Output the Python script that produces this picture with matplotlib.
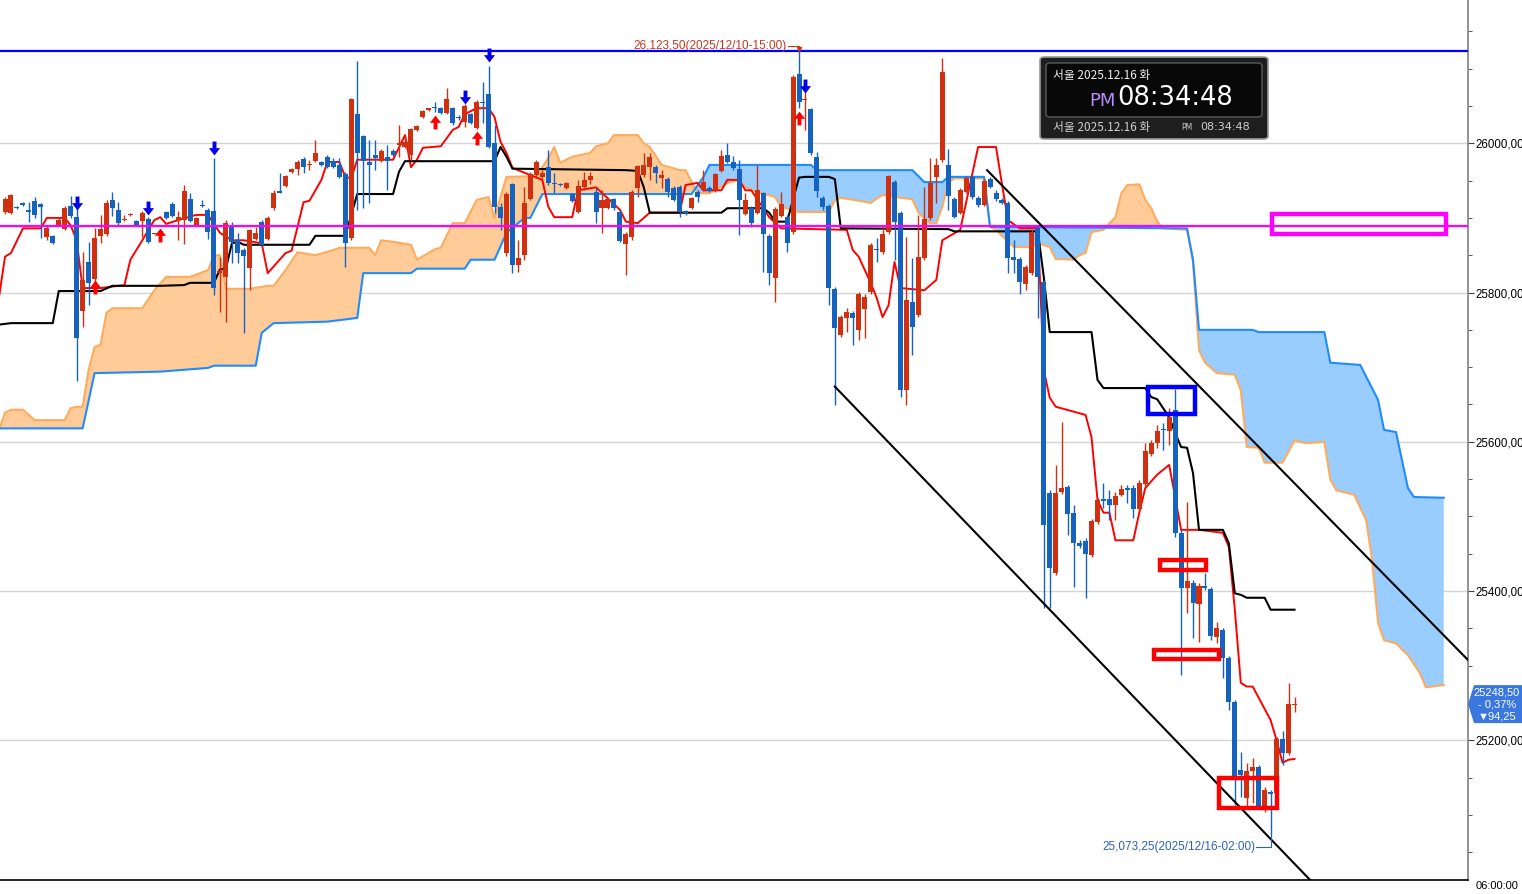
import numpy as np
import matplotlib.pyplot as plt
from matplotlib import font_manager
from matplotlib.path import Path
from matplotlib.patches import Rectangle, FancyBboxPatch, Polygon
from matplotlib.transforms import IdentityTransform

fonts = {f.name for f in font_manager.fontManager.ttflist}
NARROW = 'Liberation Sans Narrow' if 'Liberation Sans Narrow' in fonts else 'Liberation Sans'
KR = ['Noto Sans CJK KR', 'DejaVu Sans']

# ---- candles (one per bar, oldest first) ----
opens = [
    25908, 25907, 25915, 25920, 25911, 25923, 25919, 25874, 25876, 25891,
    25885, 25916, 25901, 25775, 25841, 25818, 25876, 25878, 25924, 25911,
    25897, 25904, 25896, 25896, 25899, 25878, 25880, 25908, 25919, 25897,
    25897, 25925, 25891, 25917, 25911, 25909, 25826, 25821, 25888, 25870,
    25857, 25833, 25872, 25895, 25872, 25913, 25936, 25943, 25962, 25966,
    25979, 25971, 25976, 25975, 25982, 25976, 25971, 25959, 25873, 26039,
    26010, 25975, 25984, 25976, 25982, 25990, 25998, 25995, 25984, 26018,
    26035, 26045, 26049, 26047, 26041, 26047, 26035, 26029, 26039, 26020,
    26055, 26066, 26000, 25915, 25853, 25945, 25837, 25850, 25925, 25958,
    25955, 25968, 25947, 25945, 25940, 25932, 25908, 25941, 25951, 25935,
    25913, 25913, 25925, 25908, 25865, 25874, 25940, 25958, 25968, 25968,
    25953, 25952, 25940, 25941, 25908, 25913, 25935, 25937, 25940, 25937,
    25963, 25984, 25975, 25966, 25905, 25913, 25907, 25933, 25876, 25819,
    25903, 25901, 25881, 26093, 26058, 26046, 25982, 25927, 25916, 25805,
    25743, 25766, 25773, 25750, 25778, 25801, 25858, 25854, 25881, 25948,
    25907, 25669, 25787, 25770, 25846, 25900, 25955, 25978, 25971, 25925,
    25907, 25935, 25955, 25927, 25917, 25952, 25933, 25924, 25920, 25848,
    25845, 25811, 25826, 25887, 25814, 25531, 25424, 25533, 25539, 25505,
    25464, 25467, 25448, 25493, 25522, 25523, 25515, 25529, 25537, 25538,
    25510, 25543, 25584, 25598, 25617, 25614, 25643, 25478, 25404, 25411,
    25383, 25407, 25403, 25338, 25348, 25310, 25251, 25160, 25123, 25159,
    25164, 25112, 25131, 25129, 25202, 25183, 25247,
]
highs = [
    25928, 25932, 25916, 25921, 25921, 25928, 25920, 25891, 25877, 25900,
    25916, 25929, 25924, 25854, 25868, 25887, 25904, 25924, 25935, 25921,
    25904, 25907, 25897, 25909, 25901, 25880, 25882, 25909, 25921, 25909,
    25944, 25933, 25901, 25924, 25913, 25980, 25848, 25897, 25895, 25880,
    25860, 25885, 25888, 25897, 25903, 25937, 25960, 25958, 25967, 25978,
    25982, 25978, 26004, 25976, 25984, 25980, 25980, 25962, 26061, 26110,
    26011, 26004, 26004, 25992, 25998, 25992, 26024, 26011, 26020, 26024,
    26045, 26047, 26055, 26049, 26074, 26049, 26038, 26053, 26041, 26058,
    26082, 26104, 26024, 25920, 25935, 25947, 25870, 25941, 25962, 25978,
    25964, 25991, 25960, 25947, 25948, 25933, 25951, 25962, 25962, 25940,
    25937, 25927, 25927, 25911, 25881, 25937, 25971, 25987, 25987, 25971,
    25964, 25955, 25943, 25944, 25911, 25928, 25937, 25964, 25943, 25960,
    25991, 26000, 25983, 25978, 25933, 25916, 25971, 25935, 25878, 25915,
    25935, 25904, 26092, 26123.5, 26071, 26047, 25988, 25929, 25919, 25807,
    25770, 25779, 25775, 25801, 25798, 25866, 25873, 25891, 25958, 25951,
    25909, 25874, 25846, 25904, 25941, 25980, 25980, 26114, 25992, 25928,
    25940, 25956, 25958, 25929, 25952, 25955, 25937, 25927, 25923, 25870,
    25848, 25837, 25884, 25889, 25817, 25535, 25569, 25627, 25542, 25515,
    25468, 25471, 25497, 25525, 25545, 25535, 25533, 25542, 25542, 25542,
    25549, 25598, 25602, 25622, 25625, 25645, 25671, 25482, 25519, 25415,
    25411, 25424, 25405, 25359, 25350, 25313, 25254, 25184, 25170, 25176,
    25167, 25137, 25133, 25204, 25213, 25277, 25258,
]
lows = [
    25905, 25905, 25912, 25916, 25895, 25900, 25873, 25870, 25865, 25889,
    25884, 25900, 25681, 25754, 25783, 25813, 25866, 25876, 25903, 25891,
    25896, 25903, 25889, 25874, 25866, 25878, 25878, 25899, 25901, 25870,
    25865, 25895, 25889, 25915, 25872, 25797, 25774, 25761, 25840, 25840,
    25746, 25803, 25870, 25862, 25870, 25911, 25933, 25941, 25960, 25958,
    25960, 25964, 25975, 25970, 25967, 25967, 25954, 25834, 25870, 25911,
    25913, 25920, 25964, 25975, 25937, 25983, 25982, 25994, 25978, 26016,
    26034, 26043, 26042, 26039, 26039, 26024, 26031, 26022, 26026, 26019,
    26027, 25994, 25907, 25884, 25849, 25826, 25827, 25844, 25924, 25954,
    25954, 25944, 25933, 25943, 25939, 25921, 25907, 25937, 25945, 25893,
    25880, 25912, 25911, 25868, 25824, 25870, 25928, 25955, 25951, 25947,
    25940, 25928, 25923, 25901, 25904, 25912, 25921, 25936, 25935, 25935,
    25962, 25974, 25964, 25877, 25904, 25888, 25905, 25828, 25810, 25787,
    25901, 25854, 25878, 26047, 26018, 25984, 25928, 25911, 25783, 25649,
    25740, 25747, 25730, 25736, 25739, 25798, 25841, 25852, 25878, 25844,
    25660, 25649, 25716, 25767, 25844, 25897, 25920, 25975, 25911, 25900,
    25905, 25933, 25925, 25915, 25916, 25940, 25923, 25919, 25826, 25826,
    25798, 25803, 25824, 25766, 25377, 25377, 25422, 25530, 25475, 25405,
    25458, 25391, 25446, 25490, 25511, 25495, 25495, 25527, 25518, 25498,
    25509, 25541, 25581, 25592, 25589, 25596, 25472, 25288, 25371, 25337,
    25332, 25401, 25334, 25330, 25284, 25241, 25113, 25124, 25111, 25116,
    25109, 25104, 25073.25, 25127, 25167, 25180, 25238,
]
closes = [
    25925, 25931, 25913, 25917, 25908, 25904, 25915, 25886, 25866, 25897,
    25913, 25903, 25739, 25817, 25813, 25873, 25885, 25920, 25913, 25893,
    25899, 25905, 25891, 25907, 25868, 25880, 25881, 25900, 25903, 25901,
    25936, 25896, 25900, 25916, 25881, 25806, 25829, 25893, 25868, 25853,
    25849, 25884, 25880, 25864, 25900, 25933, 25934, 25956, 25966, 25975,
    25968, 25972, 25987, 25971, 25968, 25968, 25955, 25866, 26059, 25987,
    25976, 25971, 25980, 25990, 25976, 25984, 25999, 26002, 26019, 26023,
    26043, 26046, 26047, 26041, 26059, 26027, 26034, 26050, 26027, 26055,
    26054, 25995, 25915, 25900, 25932, 25837, 25846, 25920, 25959, 25975,
    25960, 25947, 25945, 25944, 25947, 25923, 25943, 25951, 25956, 25908,
    25924, 25925, 25913, 25869, 25878, 25935, 25970, 25971, 25982, 25960,
    25958, 25935, 25924, 25908, 25907, 25927, 25928, 25948, 25936, 25959,
    25983, 25975, 25967, 25924, 25924, 25893, 25937, 25878, 25826, 25912,
    25919, 25866, 26089, 26055, 26059, 25987, 25936, 25915, 25806, 25752,
    25767, 25774, 25766, 25798, 25794, 25864, 25857, 25878, 25956, 25895,
    25669, 25790, 25754, 25848, 25899, 25947, 25971, 26096, 25929, 25901,
    25937, 25954, 25928, 25917, 25949, 25941, 25925, 25920, 25846, 25844,
    25814, 25834, 25881, 25821, 25488, 25431, 25531, 25538, 25503, 25464,
    25460, 25450, 25494, 25522, 25521, 25515, 25527, 25537, 25536, 25510,
    25545, 25588, 25598, 25614, 25616, 25633, 25478, 25404, 25413, 25384,
    25407, 25404, 25340, 25350, 25310, 25251, 25151, 25153, 25159, 25164,
    25112, 25133, 25128, 25202, 25183, 25249, 25248.5,
]

# ---- ichimoku lines as (bar, price) vertices ----
tenkan = [(-1, 25794), (0, 25848), (1, 25853), (3, 25886), (6, 25886), (7, 25900), (10, 25900),
          (11, 25890), (12, 25870), (13, 25806), (16, 25806), (20, 25810), (21, 25844), (23, 25870),
          (25, 25897), (26, 25901), (27, 25892), (29, 25897), (32, 25904), (34, 25904), (36, 25880),
          (38, 25870), (40, 25870), (43, 25866), (44, 25826), (47, 25853), (48, 25856), (49, 25888),
          (50, 25921), (51, 25923), (53, 25951), (54, 25975), (56, 25975), (57, 25955), (58, 25953),
          (59, 25978), (65, 25978), (67, 26011), (68, 25968), (69, 25978), (70, 25994), (73, 25996),
          (75, 26018), (76, 26022), (77, 26039), (79, 26047), (81, 26047), (82, 26035), (83, 26002),
          (84, 25987), (85, 25967), (90, 25951), (91, 25915), (92, 25901), (95, 25901), (96, 25937),
          (99, 25941), (103, 25911), (104, 25895), (106, 25893), (108, 25907), (113, 25907),
          (114, 25944), (116, 25947), (117, 25937), (120, 25937), (121, 25951), (123, 25951),
          (124, 25937), (125, 25937), (128, 25901), (130, 25886), (141, 25884), (142, 25857),
          (143, 25848), (145, 25813), (146, 25793), (147, 25767), (148, 25783), (149, 25841),
          (150, 25806), (154, 25803), (156, 25817), (157, 25870), (160, 25884), (163, 25995),
          (166, 25995), (167, 25945), (168, 25897), (170, 25886), (173, 25886), (174, 25696),
          (175, 25659), (176, 25647), (181, 25636), (182, 25606), (183, 25522), (184, 25505),
          (185, 25505), (186, 25468), (189, 25468), (190, 25505), (191, 25538), (193, 25556),
          (195, 25569), (196, 25526), (197, 25482), (200, 25482), (204, 25478), (205, 25459),
          (206, 25375), (207, 25277), (208, 25272), (209, 25272), (211, 25242), (212, 25227),
          (213, 25200), (214, 25170), (215, 25174), (216, 25175)]
kijun = [(-1, 25757), (1, 25759), (8, 25759), (9, 25802), (16, 25802), (18, 25809), (26, 25809),
         (30, 25810), (31, 25813), (35, 25813), (36, 25831), (37, 25832), (38, 25866), (39, 25868),
         (40, 25864), (51, 25864), (52, 25876), (57, 25876), (59, 25932), (65, 25932), (66, 25962),
         (67, 25976), (82, 25976), (83, 25995), (84, 25982), (85, 25966), (104, 25964), (106, 25963),
         (107, 25941), (108, 25907), (120, 25907), (121, 25913), (127, 25913), (128, 25907),
         (129, 25895), (131, 25895), (133, 25954), (134, 25955), (138, 25955), (139, 25952),
         (140, 25886), (158, 25885), (159, 25882), (173, 25882), (174, 25821), (175, 25747),
         (182, 25747), (183, 25683), (184, 25672), (191, 25672), (192, 25660), (193, 25657),
         (194, 25645), (195, 25633), (196, 25612), (197, 25593), (198, 25592), (199, 25558),
         (200, 25482), (204, 25482), (205, 25464), (206, 25397), (207, 25395), (208, 25391),
         (211, 25391), (212, 25375), (216, 25375)]
span_a = [(-1, 25616), (0, 25639), (1, 25643), (3, 25643), (5, 25629), (10, 25629), (11, 25645),
          (12, 25647), (13, 25647), (14, 25696), (15, 25727), (16, 25730), (17, 25773), (18, 25779),
          (23, 25779), (25, 25803), (27, 25821), (31, 25821), (34, 25830), (35, 25850), (36, 25850),
          (37, 25805), (41, 25805), (44, 25809), (45, 25809), (47, 25830), (49, 25854), (52, 25850),
          (55, 25857), (56, 25860), (61, 25860), (62, 25850), (63, 25870), (65, 25868), (68, 25864),
          (69, 25844), (72, 25858), (73, 25860), (75, 25893), (77, 25893), (79, 25924), (81, 25928),
          (82, 25900), (83, 25928), (84, 25955), (89, 25956), (91, 25980), (92, 25995), (93, 25974),
          (95, 25982), (98, 25987), (99, 25996), (101, 26000), (102, 26011), (106, 26011),
          (107, 26000), (108, 25995), (110, 25971), (113, 25964), (114, 25964), (116, 25933),
          (118, 25933), (121, 25947), (123, 25951), (124, 25941), (126, 25935), (129, 25928),
          (130, 25915), (133, 25908), (138, 25908), (139, 25924), (140, 25927), (143, 25923),
          (145, 25920), (147, 25931), (148, 25929), (152, 25925), (153, 25907), (155, 25893),
          (156, 25893), (157, 25915), (158, 25947), (159, 25953), (164, 25953), (165, 25888),
          (166, 25884), (168, 25868), (169, 25861), (172, 25861), (173, 25866), (175, 25861),
          (176, 25845), (179, 25844), (180, 25850), (181, 25853), (182, 25881), (184, 25884),
          (186, 25901), (187, 25933), (188, 25944), (190, 25945), (191, 25924), (192, 25913),
          (193, 25895), (194, 25886), (198, 25884), (199, 25840), (200, 25723), (201, 25706),
          (203, 25692), (206, 25690), (207, 25669), (208, 25593), (210, 25592), (211, 25572),
          (214, 25572), (216, 25602), (218, 25598), (221, 25600), (222, 25549), (223, 25535),
          (226, 25529), (228, 25495), (229, 25442), (230, 25357), (231, 25334), (233, 25330),
          (235, 25314), (237, 25290), (238, 25271), (241, 25274)]
span_b = [(-1, 25618), (13, 25618), (15, 25692), (26, 25694), (34, 25699), (35, 25702), (42, 25702),
          (43, 25746), (45, 25759), (54, 25761), (59, 25766), (60, 25826), (68, 25826), (69, 25832),
          (77, 25832), (78, 25844), (82, 25844), (84, 25880), (87, 25900), (88, 25900), (90, 25932),
          (115, 25932), (117, 25955), (118, 25971), (135, 25971), (136, 25964), (152, 25964),
          (154, 25948), (157, 25948), (158, 25955), (164, 25955), (165, 25888), (198, 25886),
          (199, 25844), (200, 25750), (209, 25750), (210, 25747), (221, 25747), (222, 25706),
          (227, 25703), (230, 25656), (231, 25616), (233, 25613), (235, 25538), (236, 25526),
          (241, 25525)]

# ---- signals, levels and drawings ----
sell_bar = [12, 24, 35, 77, 81, 134]
sell_px = [25920, 25913, 25994, 26062, 26118, 26077]
buy_bar = [15, 26, 72, 79, 133]
buy_px = [25807, 25877, 26029, 26007, 26034]
high_level = 26123.5
magenta_level = 25889
trend_upper = [(164.5, 25964), (245.5, 25304)]
trend_lower = [(139, 25674), (221, 24993)]
boxes = [  # (bar0, bar1, price0, price1, colour)
    (212.3, 241.3, 25879, 25904.6, '#ff00ff'),
    (191.4, 199.3, 25636.6, 25673.4, '#0000ff'),
    (193.4, 201.2, 25428.2, 25441.6, '#ff0000'),
    (192.4, 203.3, 25309, 25321, '#ff0000'),
    (203.4, 213.0, 25109, 25149, '#ff0000'),
]
yticks = [25200, 25400, 25600, 25800, 26000]

RED = '#d0300f'
BLUE = '#1662bf'

W, H = 1522, 894
fig = plt.figure(figsize=(W / 100, H / 100), dpi=100)
fig.patch.set_facecolor('white')
ax = fig.add_axes([0, 14 / H, 1468 / W, 880 / H])
ax.set_xlim(-0.84, 245.06)
ax.set_ylim(25012.8, 26192)

for v in yticks:
    ax.axhline(v, color='#d4d4d4', lw=1, zorder=0)

# cloud
ax_x, ax_y = zip(*span_a)
bx_x, bx_y = zip(*span_b)
grid = np.union1d(ax_x, bx_x)
a_g = np.interp(grid, ax_x, ax_y)
b_g = np.interp(grid, bx_x, bx_y)
ax.fill_between(grid, a_g, b_g, where=a_g >= b_g, interpolate=True,
                color='#ffcc99', lw=0, zorder=1)
ax.fill_between(grid, a_g, b_g, where=a_g < b_g, interpolate=True,
                color='#99ccff', lw=0, zorder=1)
ax.plot(ax_x, ax_y, color='#ffab5e', lw=1.5, zorder=2)
ax.plot(bx_x, bx_y, color='#1e8cff', lw=1.5, zorder=2)

tx, ty = zip(*tenkan)
ax.plot(tx, ty, color='#ff0000', lw=1.4, zorder=3)
kx, ky = zip(*kijun)
ax.plot(kx, ky, color='black', lw=1.5, zorder=3)

# candles
o, h, l, c = (np.array(a, dtype=float) for a in (opens, highs, lows, closes))
x = np.arange(len(o))
cols = np.where(c >= o, RED, BLUE)
ax.vlines(x, l, h, colors=cols, lw=1, zorder=4)
ax.bar(x, np.maximum(np.abs(c - o), 1.8), bottom=np.minimum(o, c), width=0.84,
       color=cols, lw=0, zorder=5)

# horizontal levels and trend lines
ax.axhline(high_level, color='#0000ff', lw=1.6, zorder=6)
ax.axhline(magenta_level, color='#ff00ff', lw=1.6, zorder=6)
for line in (trend_upper, trend_lower):
    lx, ly = zip(*line)
    ax.plot(lx, ly, color='black', lw=1.5, zorder=6)

for b0, b1, p0, p1, col in boxes:
    ax.add_patch(Rectangle((b0, p0), b1 - b0, p1 - p0, fill=False, ec=col, lw=3.2, zorder=7))

# signal arrows
dv = [(-0.28, 1.0), (0.28, 1.0), (0.28, 0.05), (0.8, 0.05), (0.0, -1.0), (-0.8, 0.05),
      (-0.28, 0.05), (-0.28, 1.0)]
codes = [Path.MOVETO] + [Path.LINETO] * 6 + [Path.CLOSEPOLY]
DOWN = Path(dv, codes)
UP = Path([(vx, -vy) for vx, vy in dv], codes)
ax.plot(sell_bar, sell_px, ls='none', marker=DOWN, ms=10, color='#0000ee', mew=0, zorder=8)
ax.plot(buy_bar, buy_px, ls='none', marker=UP, ms=10, color='#ff0000', mew=0, zorder=8)

# high / low labels
hi_i = int(np.argmax(h))
lo_i = int(np.argmin(l))
ax.text(hi_i - 2.0, 26131, '26,123,50(2025/12/10-15:00)', ha='right', va='center',
        fontsize=8.5, family=NARROW, color='#c8361a', zorder=9)
ax.plot([hi_i - 1.9, hi_i, hi_i], [26131, 26131, 26126], color='#c8361a', lw=0.8, zorder=9)
ax.plot([hi_i], [26126], marker='v', ms=3, color='#c8361a', zorder=9)
ax.text(lo_i - 2.6, 25057, '25,073,25(2025/12/16-02:00)', ha='right', va='center',
        fontsize=8.5, family=NARROW, color='#2a62c4', zorder=9)
ax.plot([lo_i - 2.5, lo_i, lo_i], [25057, 25057, l[lo_i]], color='#2a62c4', lw=0.8, zorder=9)

# axes styling
for s in ('top', 'left'):
    ax.spines[s].set_visible(False)
ax.spines['right'].set_color('#808080')
ax.spines['right'].set_linewidth(1.2)
ax.spines['bottom'].set_color('black')
ax.spines['bottom'].set_linewidth(1.2)
ax.set_xticks([])
ax.yaxis.tick_right()
ax.set_yticks(yticks)
ax.set_yticklabels([f'{v},00' for v in yticks], family=NARROW)
ax.set_yticks(np.arange(25050, 26200, 50), minor=True)
ax.tick_params(axis='y', which='major', length=4, color='#404040', pad=1, labelsize=8.3)
ax.tick_params(axis='y', which='minor', length=3, color='#404040')

# last price tag
last = c[-1]
yc = ax.transData.transform((0, last))[1]
tag = Polygon([(1468, yc), (1474, yc + 19), (1522, yc + 19), (1522, yc - 19), (1474, yc - 19)],
              closed=True, transform=IdentityTransform(), fc='#3a78e0', ec='none')
fig.patches.append(tag)
for dy, s in ((12, f'{last:.2f}'.replace('.', ',')), (0, '- 0,37%'), (-12, '▼94,25')):
    fig.text(1497 / W, (yc + dy) / H, s, ha='center', va='center', color='white',
             fontsize=8, family=[NARROW, 'DejaVu Sans'])

fig.text(1476 / W, 1 - 886 / H, '06:00:00', ha='left', va='center', fontsize=8,
         family=NARROW, color='black')


def fx(px):
    return px / W


def fy(py):
    return 1 - py / H


# clock widget
fig.patches.append(FancyBboxPatch((fx(1040), fy(139)), 228 / W, 82 / H,
                                  boxstyle='round,pad=0,rounding_size=0.003',
                                  transform=fig.transFigure, fc='#1e1e1e', ec='#9a9a9a', lw=1.2))
fig.patches.append(FancyBboxPatch((fx(1046), fy(117)), 216 / W, 54 / H,
                                  boxstyle='round,pad=0,rounding_size=0.003',
                                  transform=fig.transFigure, fc='#080808', ec='#5a5a5a', lw=1))
fig.text(fx(1053), fy(75), '서울 2025.12.16 화', family=KR, fontsize=8.5, color='#eeeeee',
         va='center', ha='left')
fig.text(fx(1089), fy(101), 'PM', family='DejaVu Sans', fontsize=13, color='#b58cff',
         va='center', ha='left')
fig.text(fx(1117), fy(98), '08:34:48', family='DejaVu Sans', fontsize=18.5, color='white',
         va='center', ha='left')
fig.text(fx(1053), fy(127), '서울 2025.12.16 화', family=KR, fontsize=8.5, color='#cfcfcf',
         va='center', ha='left')
fig.text(fx(1181), fy(127), 'PM', family='DejaVu Sans', fontsize=5.5, color='#cfcfcf',
         va='center', ha='left')
fig.text(fx(1200), fy(127), '08:34:48', family='DejaVu Sans', fontsize=8, color='#cfcfcf',
         va='center', ha='left')

fig.savefig('out.png', dpi=100)
